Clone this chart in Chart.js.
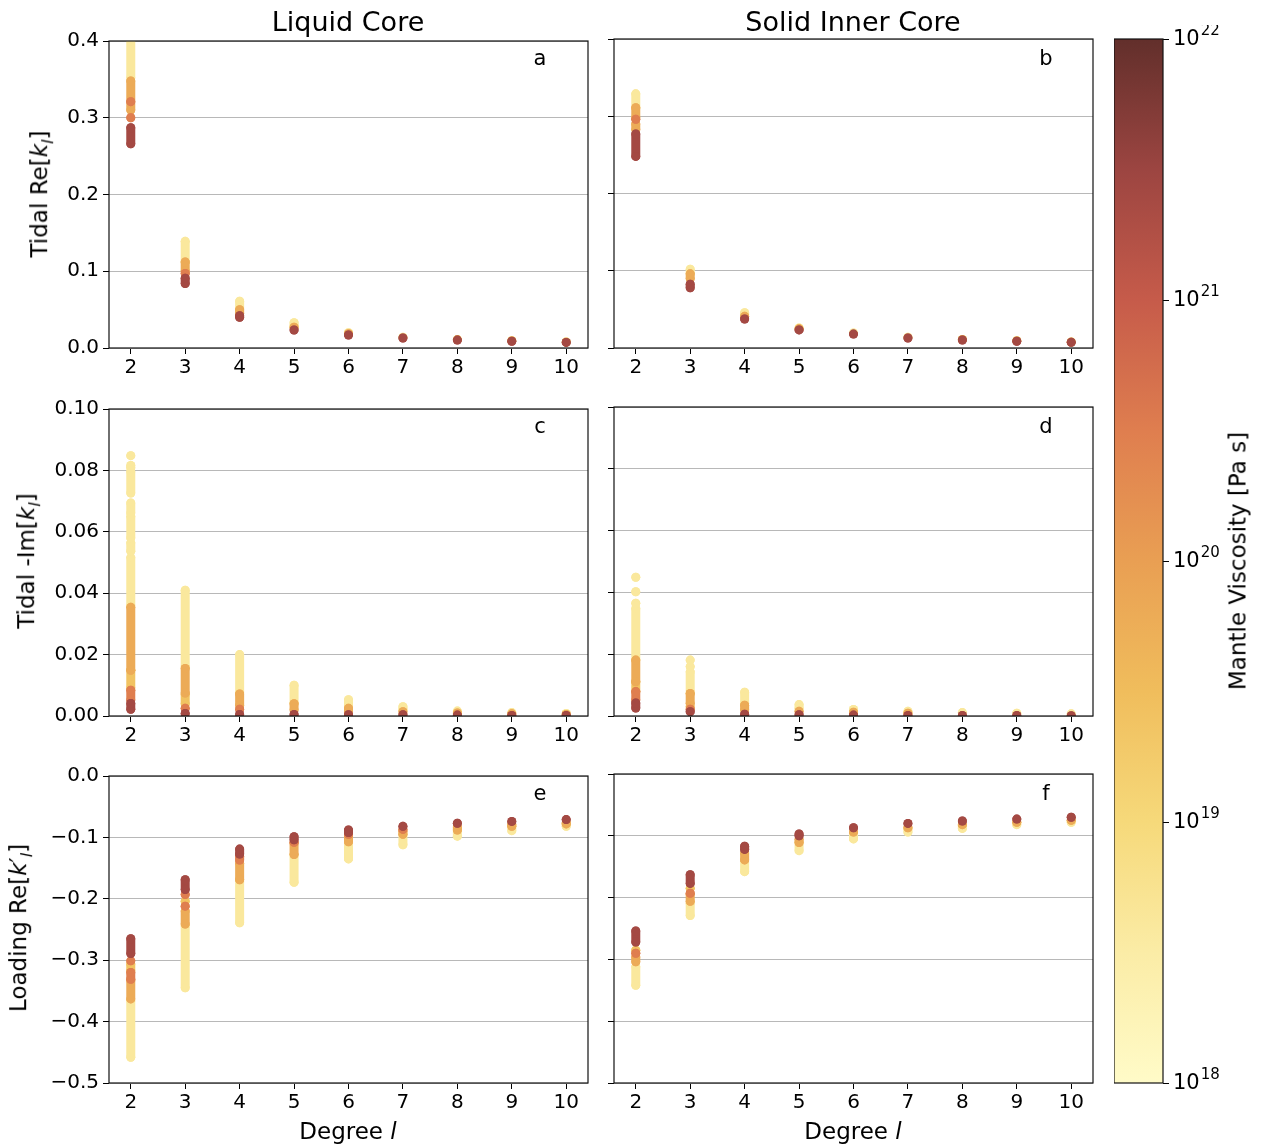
<!DOCTYPE html>
<html>
<head>
<meta charset="utf-8">
<script src="https://cdn.jsdelivr.net/npm/chart.js@4.4.1/dist/chart.umd.min.js"></script>
<style>
body { margin: 0; background: #fff; }
#fig { position: relative; width: 1261px; height: 1146px; overflow: hidden; font-family: "DejaVu Sans", sans-serif; color: #000; }
canvas { position: absolute; }
.t { position: absolute; white-space: nowrap; line-height: 1; z-index: 5; }
.col { font-size: 27px; top: 21px; transform: translate(-50%, -50%); }
.yl { font-size: 23px; transform: translate(-50%, -50%) rotate(-90deg); }
.xl { font-size: 23px; top: 1131px; transform: translate(-50%, -50%); }
.pl { font-size: 21px; transform: translate(-50%, -50%); }
sub { font-size: 70%; }
</style>
</head>
<body>
<div id="fig">
  <canvas id="pa" width="573" height="359" style="left:29px;top:25px"></canvas>
  <canvas id="pb" width="573" height="359" style="left:534px;top:25px"></canvas>
  <canvas id="pc" width="573" height="359" style="left:29px;top:393px"></canvas>
  <canvas id="pd" width="573" height="359" style="left:534px;top:393px"></canvas>
  <canvas id="pe" width="573" height="359" style="left:29px;top:760px"></canvas>
  <canvas id="pf" width="573" height="359" style="left:534px;top:760px"></canvas>
  <canvas id="cbar" width="139" height="1072" style="left:1114px;top:25px"></canvas>

  <div class="t col" style="left:348px">Liquid Core</div>
  <div class="t col" style="left:853px">Solid Inner Core</div>
  <div class="t yl" style="left:42px;top:194px">Tidal Re[<i>k<sub>l</sub></i>]</div>
  <div class="t yl" style="left:29px;top:561px">Tidal -Im[<i>k<sub>l</sub></i>]</div>
  <div class="t yl" style="left:21px;top:928px">Loading Re[<i>k</i>′<sub><i>l</i></sub>]</div>
  <div class="t xl" style="left:348px">Degree <i>l</i></div>
  <div class="t xl" style="left:853px">Degree <i>l</i></div>
  <div class="t pl" style="left:540px;top:58px">a</div>
  <div class="t pl" style="left:1046px;top:58px">b</div>
  <div class="t pl" style="left:540px;top:426px">c</div>
  <div class="t pl" style="left:1046px;top:426px">d</div>
  <div class="t pl" style="left:540px;top:793px">e</div>
  <div class="t pl" style="left:1046px;top:793px">f</div>
  <div class="t yl" style="left:1238px;top:561px">Mantle Viscosity [Pa s]</div>
</div>
<script>
// degrees on the x axis
const degrees = [2, 3, 4, 5, 6, 7, 8, 9, 10];
const degreeLabels = ['2', '3', '4', '5', '6', '7', '8', '9', '10'];

// viscosity classes seen in the points (log10 Pa s)
const viscosityExp = [18.6, 19.4, 19.8, 20.5, 21.4];

// colormap (log10 viscosity -> colour)
const cmapExp = [18, 18.5, 19, 19.5, 20, 20.5, 21, 21.5, 22];
const cmapHex = ['#fffbc8', '#fbeca6', '#f6d97a', '#f0bd5c', '#e99f53', '#df7e4f', '#c65b4a', '#9c4541', '#622f2b'];

// tick labels
const ticksRe = [0, 0.1, 0.2, 0.3, 0.4];
const ticksReLabels = ['0.0', '0.1', '0.2', '0.3', '0.4'];
const ticksIm = [0, 0.02, 0.04, 0.06, 0.08, 0.10];
const ticksImLabels = ['0.00', '0.02', '0.04', '0.06', '0.08', '0.10'];
const ticksLoad = [-0.5, -0.4, -0.3, -0.2, -0.1, 0];
const ticksLoadLabels = ['\u22120.5', '\u22120.4', '\u22120.3', '\u22120.2', '\u22120.1', '0.0'];
const cbarTicks = [18, 19, 20, 21, 22];
const cbarBase = '10';
const cbarExpLabels = ['18', '19', '20', '21', '22'];

// runs of points: [degree, low, high, viscosity class]
const tidalReLiquid = [
  [2, 0.352, 0.41, 0], [2, 0.31, 0.348, 2], [2, 0.321, 0.321, 3], [2, 0.300, 0.300, 3], [2, 0.266, 0.287, 4],
  [3, 0.112, 0.139, 0], [3, 0.100, 0.112, 2], [3, 0.097, 0.097, 3], [3, 0.084, 0.091, 4],
  [4, 0.051, 0.061, 0], [4, 0.045, 0.050, 2], [4, 0.040, 0.042, 4],
  [5, 0.029, 0.033, 0], [5, 0.027, 0.027, 2], [5, 0.0235, 0.0235, 4],
  [6, 0.020, 0.020, 0], [6, 0.0185, 0.0185, 2], [6, 0.017, 0.017, 4],
  [7, 0.014, 0.014, 0], [7, 0.013, 0.013, 4],
  [8, 0.011, 0.011, 1], [8, 0.0103, 0.0103, 4],
  [9, 0.0095, 0.0095, 1], [9, 0.0088, 0.0088, 4],
  [10, 0.0078, 0.0078, 1], [10, 0.0073, 0.0073, 4]
];
const tidalReSolid = [
  [2, 0.311, 0.329, 0], [2, 0.298, 0.311, 2], [2, 0.296, 0.296, 3], [2, 0.283, 0.290, 2], [2, 0.248, 0.277, 4],
  [3, 0.097, 0.102, 0], [3, 0.090, 0.096, 2], [3, 0.078, 0.0825, 4],
  [4, 0.043, 0.0457, 0], [4, 0.041, 0.041, 2], [4, 0.0375, 0.0375, 4],
  [5, 0.026, 0.026, 0], [5, 0.0248, 0.0248, 2], [5, 0.0234, 0.0234, 4],
  [6, 0.0195, 0.0195, 0], [6, 0.018, 0.018, 4],
  [7, 0.014, 0.014, 0], [7, 0.013, 0.013, 4],
  [8, 0.011, 0.011, 1], [8, 0.0104, 0.0104, 4],
  [9, 0.0094, 0.0094, 1], [9, 0.0088, 0.0088, 4],
  [10, 0.0078, 0.0078, 1], [10, 0.0073, 0.0073, 4]
];
const tidalImLiquid = [
  [2, 0.0848, 0.0848, 0], [2, 0.0816, 0.0816, 0], [2, 0.0809, 0.0809, 0], [2, 0.0726, 0.0796, 0],
  [2, 0.0661, 0.0694, 0], [2, 0.0580, 0.0650, 0], [2, 0.0537, 0.0564, 0], [2, 0.0359, 0.0516, 0],
  [2, 0.0149, 0.0354, 2], [2, 0.0091, 0.0149, 1], [2, 0.0052, 0.0084, 3], [2, 0.0022, 0.0041, 4],
  [3, 0.016, 0.041, 0], [3, 0.0075, 0.0155, 2], [3, 0.004, 0.007, 1], [3, 0.0025, 0.0025, 3], [3, 0.0008, 0.0008, 4],
  [4, 0.0075, 0.020, 0], [4, 0.0035, 0.0072, 2], [4, 0.0022, 0.0022, 3], [4, 0.0005, 0.0005, 4],
  [5, 0.0042, 0.0100, 0], [5, 0.002, 0.004, 2], [5, 0.0005, 0.0005, 4],
  [6, 0.003, 0.0053, 0], [6, 0.0015, 0.0025, 2], [6, 0.0004, 0.0004, 4],
  [7, 0.0022, 0.003, 0], [7, 0.0014, 0.0014, 2], [7, 0.0004, 0.0004, 4],
  [8, 0.0016, 0.0016, 0], [8, 0.001, 0.001, 2], [8, 0.0003, 0.0003, 4],
  [9, 0.0011, 0.0011, 0], [9, 0.0007, 0.0007, 2], [9, 0.0002, 0.0002, 4],
  [10, 0.0008, 0.0008, 0], [10, 0.0005, 0.0005, 2], [10, 0.0002, 0.0002, 4]
];
const tidalImSolid = [
  [2, 0.0449, 0.0449, 0], [2, 0.0402, 0.0402, 0], [2, 0.0365, 0.0365, 0], [2, 0.0181, 0.0348, 0],
  [2, 0.0111, 0.0181, 2], [2, 0.0079, 0.0111, 1], [2, 0.0052, 0.0079, 3], [2, 0.0026, 0.0042, 4],
  [3, 0.0181, 0.0181, 0], [3, 0.016, 0.016, 0], [3, 0.0073, 0.0143, 0], [3, 0.0041, 0.0073, 2],
  [3, 0.003, 0.003, 1], [3, 0.0022, 0.0022, 3], [3, 0.0014, 0.0014, 4],
  [4, 0.0041, 0.0077, 0], [4, 0.002, 0.0035, 2], [4, 0.0006, 0.0006, 4],
  [5, 0.0025, 0.0037, 0], [5, 0.0015, 0.0015, 2], [5, 0.0004, 0.0004, 4],
  [6, 0.0021, 0.0021, 0], [6, 0.0012, 0.0012, 2], [6, 0.0003, 0.0003, 4],
  [7, 0.0015, 0.0015, 0], [7, 0.0009, 0.0009, 2], [7, 0.0002, 0.0002, 4],
  [8, 0.0011, 0.0011, 0], [8, 0.0002, 0.0002, 4],
  [9, 0.0009, 0.0009, 0], [9, 0.0002, 0.0002, 4],
  [10, 0.0007, 0.0007, 0], [10, 0.0001, 0.0001, 4]
];
const loadReLiquid = [
  [2, -0.289, -0.265, 4], [2, -0.301, -0.301, 3], [2, -0.317, -0.306, 1], [2, -0.331, -0.320, 3],
  [2, -0.363, -0.333, 2], [2, -0.458, -0.366, 0],
  [3, -0.185, -0.169, 4], [3, -0.193, -0.193, 3], [3, -0.204, -0.204, 1], [3, -0.212, -0.212, 3],
  [3, -0.241, -0.220, 2], [3, -0.345, -0.244, 0],
  [4, -0.127, -0.119, 4], [4, -0.137, -0.131, 3], [4, -0.169, -0.142, 2], [4, -0.239, -0.169, 0],
  [5, -0.104, -0.099, 4], [5, -0.108, -0.108, 3], [5, -0.128, -0.110, 2], [5, -0.173, -0.128, 0],
  [6, -0.092, -0.088, 4], [6, -0.095, -0.095, 3], [6, -0.107, -0.097, 2], [6, -0.135, -0.107, 0],
  [7, -0.082, -0.082, 4], [7, -0.087, -0.087, 3], [7, -0.095, -0.090, 2], [7, -0.112, -0.095, 0],
  [8, -0.077, -0.077, 4], [8, -0.088, -0.083, 2], [8, -0.098, -0.088, 0],
  [9, -0.074, -0.074, 4], [9, -0.082, -0.079, 2], [9, -0.089, -0.082, 0],
  [10, -0.071, -0.071, 4], [10, -0.078, -0.076, 2], [10, -0.082, -0.078, 0]
];
const loadReSolid = [
  [2, -0.272, -0.254, 4], [2, -0.285, -0.285, 1], [2, -0.290, -0.290, 3], [2, -0.304, -0.296, 2], [2, -0.342, -0.312, 0],
  [3, -0.177, -0.163, 4], [3, -0.185, -0.185, 1], [3, -0.193, -0.193, 3], [3, -0.206, -0.195, 2], [3, -0.229, -0.209, 0],
  [4, -0.122, -0.117, 4], [4, -0.139, -0.128, 2], [4, -0.158, -0.139, 0],
  [5, -0.100, -0.097, 4], [5, -0.111, -0.106, 2], [5, -0.124, -0.111, 0],
  [6, -0.087, -0.087, 4], [6, -0.094, -0.094, 2], [6, -0.105, -0.097, 0],
  [7, -0.080, -0.080, 4], [7, -0.087, -0.087, 2], [7, -0.094, -0.088, 0],
  [8, -0.076, -0.076, 4], [8, -0.082, -0.082, 2], [8, -0.088, -0.083, 0],
  [9, -0.073, -0.073, 4], [9, -0.078, -0.078, 2], [9, -0.082, -0.079, 0],
  [10, -0.070, -0.070, 4], [10, -0.075, -0.075, 2], [10, -0.078, -0.076, 0]
];

Chart.defaults.font.family = '"DejaVu Sans", sans-serif';
Chart.defaults.color = '#000';

function hexRgb(h) {
  return [1, 3, 5].map(i => parseInt(h.substr(i, 2), 16));
}
function viscColor(e) {
  let i = 0;
  while (i < cmapExp.length - 2 && e > cmapExp[i + 1]) i++;
  const f = Math.min(Math.max((e - cmapExp[i]) / (cmapExp[i + 1] - cmapExp[i]), 0), 1);
  const a = hexRgb(cmapHex[i]), b = hexRgb(cmapHex[i + 1]);
  const c = a.map((v, k) => Math.round(v + (b[k] - v) * f));
  return `rgb(${c[0]},${c[1]},${c[2]})`;
}

// black box around each plot area
const framePlugin = {
  id: 'frame',
  afterDraw(chart) {
    const { ctx, chartArea: a } = chart;
    ctx.save();
    ctx.strokeStyle = '#111';
    ctx.lineWidth = 1.2;
    ctx.strokeRect(a.left, a.top, a.right - a.left, a.bottom - a.top);
    ctx.restore();
  }
};

// colour bar labels as 10 with a raised exponent
const powerLabels = {
  id: 'powerLabels',
  afterDraw(chart) {
    const { ctx } = chart;
    const y = chart.scales.y;
    const x0 = chart.chartArea.right + 10;
    ctx.save();
    ctx.fillStyle = '#000';
    ctx.textBaseline = 'middle';
    ctx.textAlign = 'left';
    cbarTicks.forEach((e, i) => {
      const py = y.getPixelForValue(10 ** e);
      ctx.font = '21px "DejaVu Sans", sans-serif';
      ctx.fillText(cbarBase, x0, py + 1);
      const w = ctx.measureText(cbarBase).width;
      ctx.font = '15px "DejaVu Sans", sans-serif';
      ctx.fillText(cbarExpLabels[i], x0 + w + 1, py - 8);
    });
    ctx.restore();
  }
};

function makePanel(id, bands, yTicks, yLabels, showYLabels) {
  // Chart.js paints dataset 0 last, so put the darker (high viscosity) runs first
  const sorted = bands.slice().sort((p, q) => q[3] - p[3]);
  const datasets = sorted.map(b => {
    const c = viscColor(viscosityExp[b[3]]);
    const pts = b[1] === b[2] ? [{ x: b[0], y: b[1] }] : [{ x: b[0], y: b[1] }, { x: b[0], y: b[2] }];
    return {
      data: pts, showLine: true, borderColor: c, backgroundColor: c,
      borderWidth: 9, borderCapStyle: 'round', pointRadius: 4.5, pointBorderWidth: 0,
      pointHoverRadius: 4.5, clip: 0
    };
  });
  new Chart(document.getElementById(id), {
    type: 'scatter',
    data: { datasets },
    options: {
      responsive: false,
      animation: false,
      events: [],
      layout: { padding: { top: 14, right: 14, left: 0, bottom: 0 } },
      plugins: { legend: { display: false }, tooltip: { enabled: false } },
      scales: {
        x: {
          type: 'linear', min: 1.6, max: 10.4,
          afterBuildTicks: ax => { ax.ticks = degrees.map(v => ({ value: v })); },
          afterFit: ax => { ax.height = 36; },
          border: { display: false },
          grid: { drawOnChartArea: false, drawTicks: true, tickLength: 6, tickColor: '#000', lineWidth: 1 },
          ticks: { font: { size: 20 }, padding: 2, maxRotation: 0, autoSkip: false, callback: (v, i) => degreeLabels[i] }
        },
        y: {
          min: yTicks[0], max: yTicks[yTicks.length - 1],
          afterBuildTicks: ax => { ax.ticks = yTicks.map(v => ({ value: v })); },
          afterFit: ax => { ax.width = 80; },
          border: { display: false },
          grid: { color: '#b8b8b8', lineWidth: 1, tickColor: '#000', tickLength: 6 },
          ticks: { display: showYLabels, font: { size: 20 }, padding: 4, autoSkip: false, callback: (v, i) => yLabels[i] }
        }
      }
    },
    plugins: [framePlugin]
  });
}

makePanel('pa', tidalReLiquid, ticksRe, ticksReLabels, true);
makePanel('pb', tidalReSolid, ticksRe, ticksReLabels, false);
makePanel('pc', tidalImLiquid, ticksIm, ticksImLabels, true);
makePanel('pd', tidalImSolid, ticksIm, ticksImLabels, false);
makePanel('pe', loadReLiquid, ticksLoad, ticksLoadLabels, true);
makePanel('pf', loadReSolid, ticksLoad, ticksLoadLabels, false);

// colour bar
new Chart(document.getElementById('cbar'), {
  type: 'bar',
  data: {
    labels: [''],
    datasets: [{
      data: [[10 ** cbarTicks[0], 10 ** cbarTicks[cbarTicks.length - 1]]],
      borderWidth: 0, barPercentage: 1, categoryPercentage: 1,
      backgroundColor: c => {
        const ch = c.chart;
        if (!ch.chartArea) return cmapHex[0];
        const y = ch.scales.y;
        const g = ch.ctx.createLinearGradient(0, y.getPixelForValue(10 ** cmapExp[0]), 0, y.getPixelForValue(10 ** cmapExp[cmapExp.length - 1]));
        cmapExp.forEach((e, i) => g.addColorStop((e - cmapExp[0]) / (cmapExp[cmapExp.length - 1] - cmapExp[0]), cmapHex[i]));
        return g;
      }
    }]
  },
  options: {
    responsive: false,
    animation: false,
    events: [],
    layout: { padding: { top: 14, right: 0, left: 0, bottom: 14 } },
    plugins: { legend: { display: false }, tooltip: { enabled: false } },
    scales: {
      x: { display: false },
      y: {
        type: 'logarithmic', position: 'right',
        min: 10 ** cbarTicks[0], max: 10 ** cbarTicks[cbarTicks.length - 1],
        afterBuildTicks: ax => { ax.ticks = cbarTicks.map(e => ({ value: 10 ** e })); },
        afterFit: ax => { ax.width = 90; },
        border: { display: false },
        grid: { drawOnChartArea: false, tickLength: 6, tickColor: '#000', lineWidth: 1 },
        ticks: { display: false }
      }
    }
  },
  plugins: [framePlugin, powerLabels]
});
</script>
</body>
</html>
